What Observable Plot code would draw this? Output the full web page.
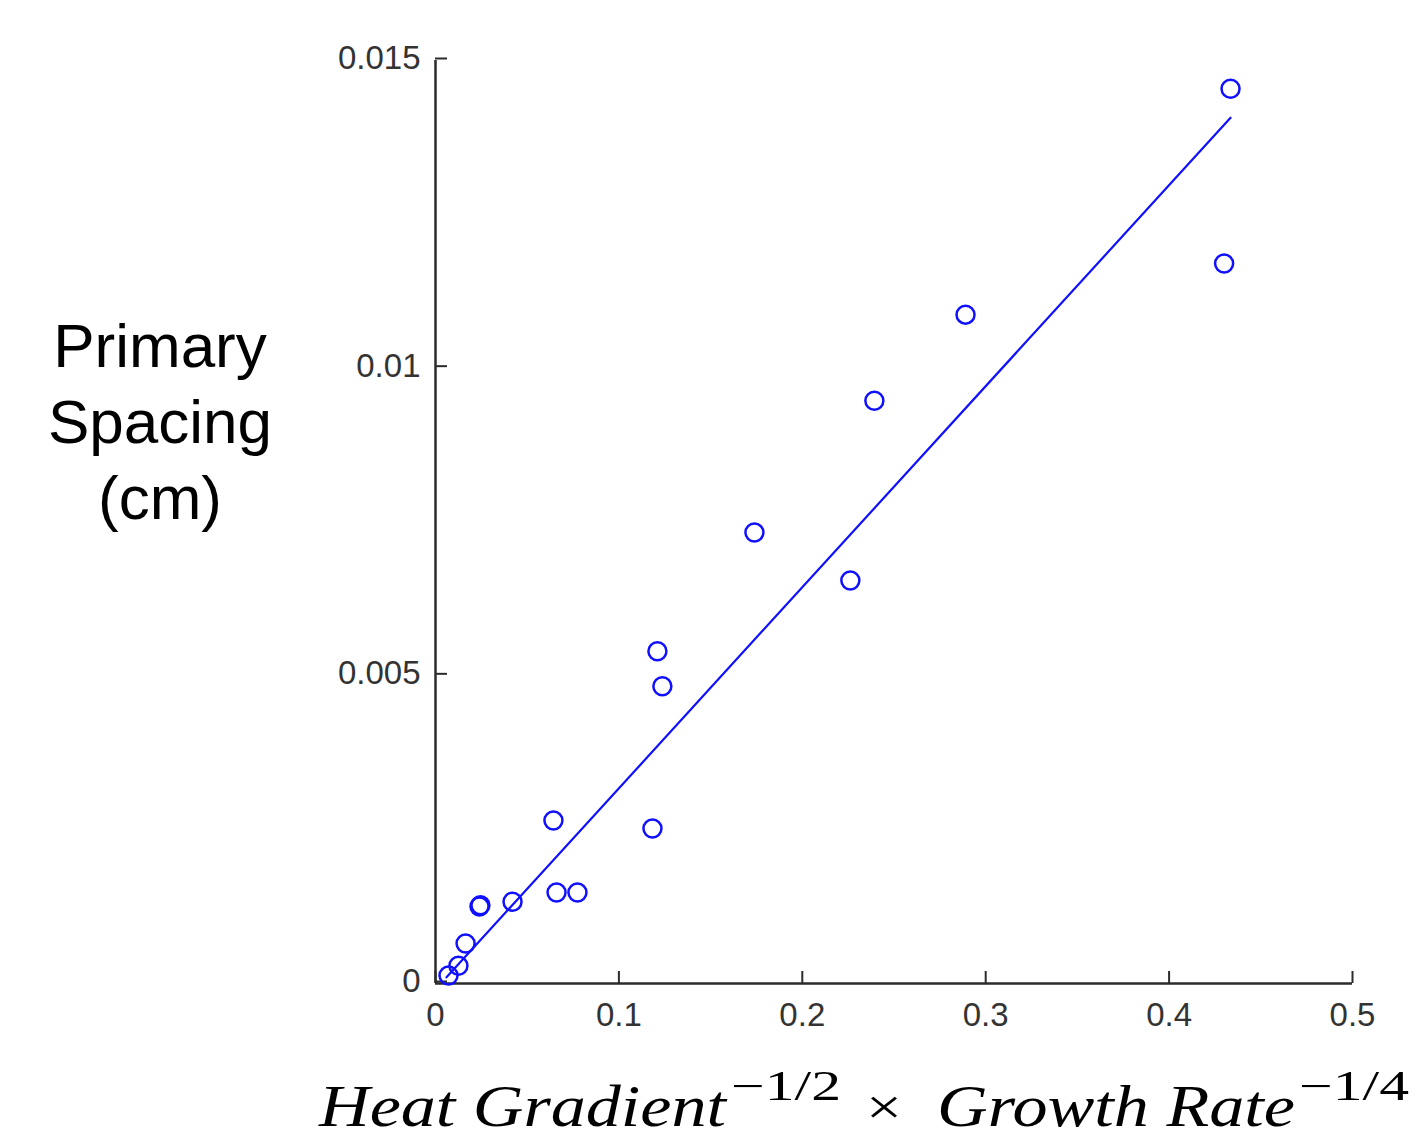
<!DOCTYPE html>
<html>
<head>
<meta charset="utf-8">
<script src="https://cdn.jsdelivr.net/npm/d3@7"></script>
<script src="https://cdn.jsdelivr.net/npm/@observablehq/plot@0.6"></script>
<style>
  html, body { margin: 0; padding: 0; background: #fff; }
  #wrap { position: relative; width: 1418px; height: 1142px; overflow: hidden; }
  #ylabel { position: absolute; left: 0; width: 320px; top: 308px; text-align: center;
    font-family: "Liberation Sans", Arial, sans-serif; font-size: 62px; line-height: 76px; color: #000; }
  #xlabel { position: absolute; left: 0; top: 0; }
</style>
</head>
<body>
<div id="wrap">
  <div id="chart"></div>
  <div id="ylabel">Primary<br>Spacing<br>(cm)</div>
  <svg id="xlabel" width="1418" height="1142" xmlns="http://www.w3.org/2000/svg">
    <g font-family="'Liberation Serif', serif" fill="#000">
      <text x="319" y="1126" font-size="60" font-style="italic" textLength="407" lengthAdjust="spacingAndGlyphs">Heat Gradient</text>
      <text x="731" y="1100" font-size="42" textLength="110" lengthAdjust="spacingAndGlyphs">−1/2</text>
      <text x="866" y="1124" font-size="50" textLength="36" lengthAdjust="spacingAndGlyphs">×</text>
      <text x="937" y="1126" font-size="60" font-style="italic" textLength="358" lengthAdjust="spacingAndGlyphs">Growth Rate</text>
      <text x="1299" y="1100" font-size="42" textLength="110" lengthAdjust="spacingAndGlyphs">−1/4</text>
    </g>
  </svg>
</div>
<script>
// Measured points
const xValues = [0.4335, 0.430, 0.289, 0.2393, 0.1739, 0.2262, 0.121, 0.1237, 0.0643, 0.1183, 0.066, 0.0774, 0.042, 0.024, 0.0245, 0.0164, 0.0125, 0.0071];
const yValues = [0.01454, 0.0117, 0.01087, 0.00947, 0.00733, 0.00655, 0.0054, 0.00483, 0.00265, 0.00252, 0.00148, 0.00148, 0.00133, 0.00125, 0.00127, 0.00065, 0.00029, 0.00013];
// Fitted line endpoints
const fitX = [0.006, 0.4335];
const fitY = [0.0001, 0.01407];
// Tick values and labels
const xTicks = [0, 0.1, 0.2, 0.3, 0.4, 0.5];
const xTickLabels = ["0", "0.1", "0.2", "0.3", "0.4", "0.5"];
const yTicks = [0, 0.005, 0.01, 0.015];
const yTickLabels = ["0", "0.005", "0.01", "0.015"];

const points = xValues.map((x, i) => ({x, y: yValues[i]}));
const fit = fitX.map((x, i) => ({x, y: fitY[i]}));

const axisColor = "#2b2b2b";
const blue = "#1010ff";

const chart = Plot.plot({
  width: 1418,
  height: 1142,
  marginLeft: 435,
  marginRight: 66,
  marginTop: 60,
  marginBottom: 159,
  style: { background: "transparent", fontFamily: "'Liberation Sans', Arial, sans-serif", color: axisColor },
  x: { domain: [0, 0.5] },
  y: { domain: [0, 0.015] },
  marks: [
    Plot.axisX({ ticks: xTicks, tickFormat: (d) => xTickLabels[xTicks.indexOf(d)], tickSize: -12, tickPadding: 31, fontSize: 33, stroke: axisColor, strokeWidth: 2, fill: "#333", label: null }),
    Plot.axisY({ ticks: yTicks, tickFormat: (d) => yTickLabels[yTicks.indexOf(d)], tickSize: -12, tickPadding: 27, fontSize: 33, dy: -2, stroke: axisColor, strokeWidth: 2, fill: "#333", label: null }),
    Plot.ruleX([0], { stroke: axisColor, strokeWidth: 2.5 }),
    Plot.ruleY([0], { stroke: axisColor, strokeWidth: 2.5 }),
    Plot.line(fit, { x: "x", y: "y", stroke: blue, strokeWidth: 2.2 }),
    Plot.dot(points, { x: "x", y: "y", r: 9, stroke: blue, strokeWidth: 2.5, fill: "none" })
  ]
});
document.getElementById("chart").appendChild(chart);
</script>
</body>
</html>
